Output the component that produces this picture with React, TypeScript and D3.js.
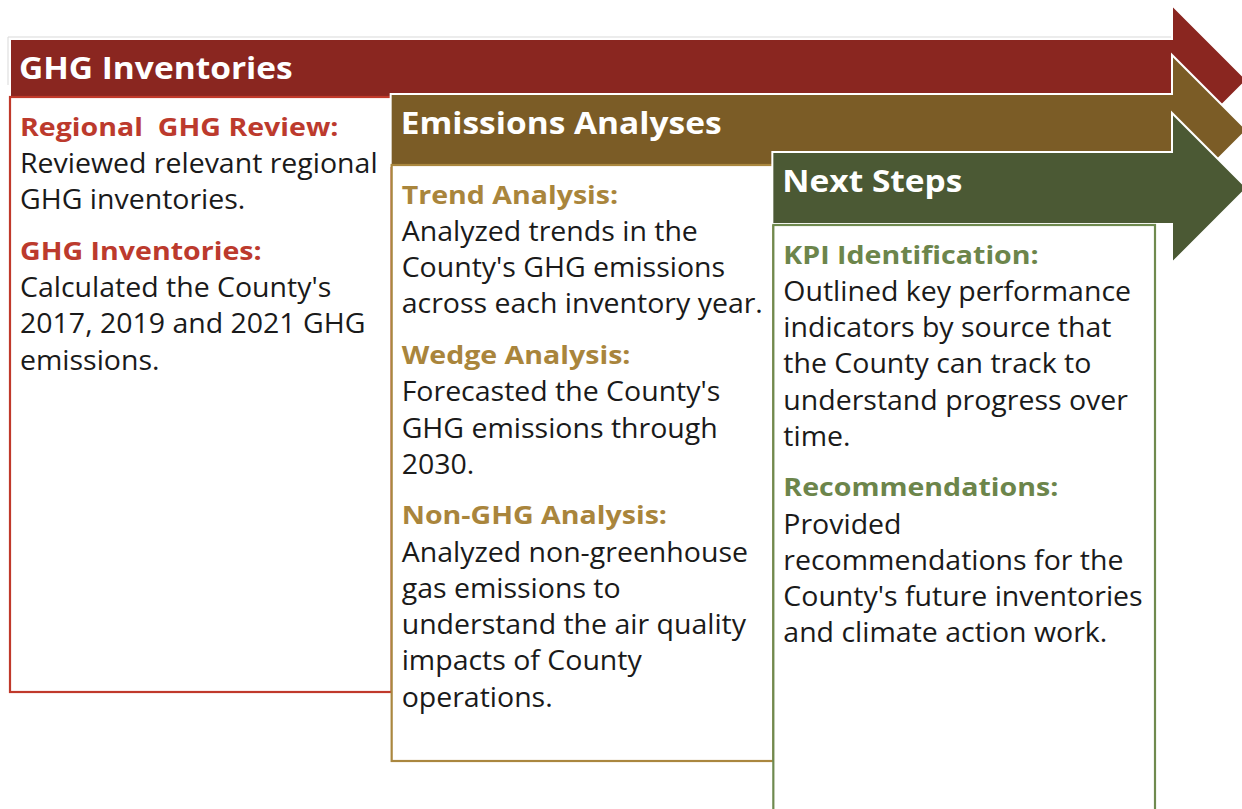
import React, { useEffect, useRef } from "react";
import * as d3 from "d3";

const stageTitles = ["GHG Inventories", "Emissions Analyses", "Next Steps"];
const stageColors = ["#8A2620", "#7B5C26", "#4B5934"];
const accentColors = ["#BC3A2D", "#A9853C", "#6C854B"];
const borderColors = ["#C0392B", "#AA873F", "#6F8A4F"];

const sectionHeadings: string[][] = [
  ["Regional  GHG Review:", "GHG Inventories:"],
  ["Trend Analysis:", "Wedge Analysis:", "Non-GHG Analysis:"],
  ["KPI Identification:", "Recommendations:"],
];

const sectionLines: string[][][] = [
  [
    ["Reviewed relevant regional", "GHG inventories."],
    ["Calculated the County's", "2017, 2019 and 2021 GHG", "emissions."],
  ],
  [
    ["Analyzed trends in the", "County's GHG emissions", "across each inventory year."],
    ["Forecasted the County's", "GHG emissions through", "2030."],
    ["Analyzed non-greenhouse", "gas emissions to", "understand the air quality", "impacts of County", "operations."],
  ],
  [
    ["Outlined key performance", "indicators by source that", "the County can track to", "understand progress over", "time."],
    ["Provided", "recommendations for the", "County's future inventories", "and climate action work."],
  ],
];

const W = 1242;
const H = 809;
const FONT = "'Open Sans', 'Noto Sans', sans-serif";

export default function App() {
  const ref = useRef<SVGSVGElement>(null);

  useEffect(() => {
    const svg = d3.select(ref.current);
    svg.selectAll("*").remove();

    const x = d3.scaleLinear().domain([0, 3]).range([10, 1155]);
    const headH = 75;
    const headX = 1172;
    const bodyHalf = [41, 36, 36];
    const centers = [80, 130, 188];
    const boxTops = [97, 165, 225];
    const boxBottoms = [692, 761, 840];

    const addText = (
      g: d3.Selection<SVGSVGElement | null, unknown, null, undefined>,
      tx: number,
      ty: number,
      str: string,
      size: number,
      weight: number,
      fill: string,
      sx: number
    ) => {
      g.append("text")
        .attr("transform", `translate(${tx},${ty}) scale(${sx},1)`)
        .attr("fill", fill)
        .attr("font-family", FONT)
        .attr("font-weight", weight)
        .attr("font-size", size)
        .style("white-space", "pre")
        .text(str);
    };

    // faint shadow at top-left of first arrow
    svg
      .append("path")
      .attr("d", `M8,85 L8,37 L${headX},37`)
      .attr("fill", "none")
      .attr("stroke", "#d9d9d9")
      .attr("stroke-width", 1);

    stageTitles.forEach((title, i) => {
      const c = centers[i];
      const bh = bodyHalf[i];
      const x0 = x(i);
      const top = i === 0 ? 39 : c - bh;
      const pts: [number, number][] = [
        [x0 - (i === 0 ? 0 : 1), top],
        [headX, top],
        [headX, c - headH],
        [headX + headH, c],
        [headX, c + headH],
        [headX, c + bh],
        [x0 - (i === 0 ? 0 : 1), c + bh],
      ];
      svg
        .append("path")
        .attr("d", d3.line()(pts) + "Z")
        .attr("fill", stageColors[i])
        .attr("stroke", "#ffffff")
        .attr("stroke-width", 2)
        .attr("stroke-linejoin", "miter");

      // white content box
      const bx0 = x(i);
      const bx1 = x(i + 1);
      svg
        .append("rect")
        .attr("x", bx0)
        .attr("y", boxTops[i])
        .attr("width", bx1 - bx0)
        .attr("height", boxBottoms[i] - boxTops[i])
        .attr("fill", "#ffffff")
        .attr("stroke", borderColors[i])
        .attr("stroke-width", 2.2);

      addText(svg, x0 + 9, top + 40, title, 31, 700, "#ffffff", 1.08);

      let y = boxTops[i] + 30 + 8.5;
      const tx = x0 + 10;
      sectionHeadings[i].forEach((hd, s) => {
        addText(svg, tx, y, hd, 25.5, 700, accentColors[i], 1.12);
        y += 37.5;
        sectionLines[i][s].forEach((ln, k) => {
          addText(svg, tx, y, ln, 26.5, 400, "#1a1a1a", 1.075);
          if (k < sectionLines[i][s].length - 1) y += 36.2;
        });
        y += 50.5;
      });
    });
  }, []);

  return (
    <svg
      ref={ref}
      width={W}
      height={H}
      style={{ position: "absolute", left: 0, top: 0, background: "#ffffff" }}
    />
  );
}
